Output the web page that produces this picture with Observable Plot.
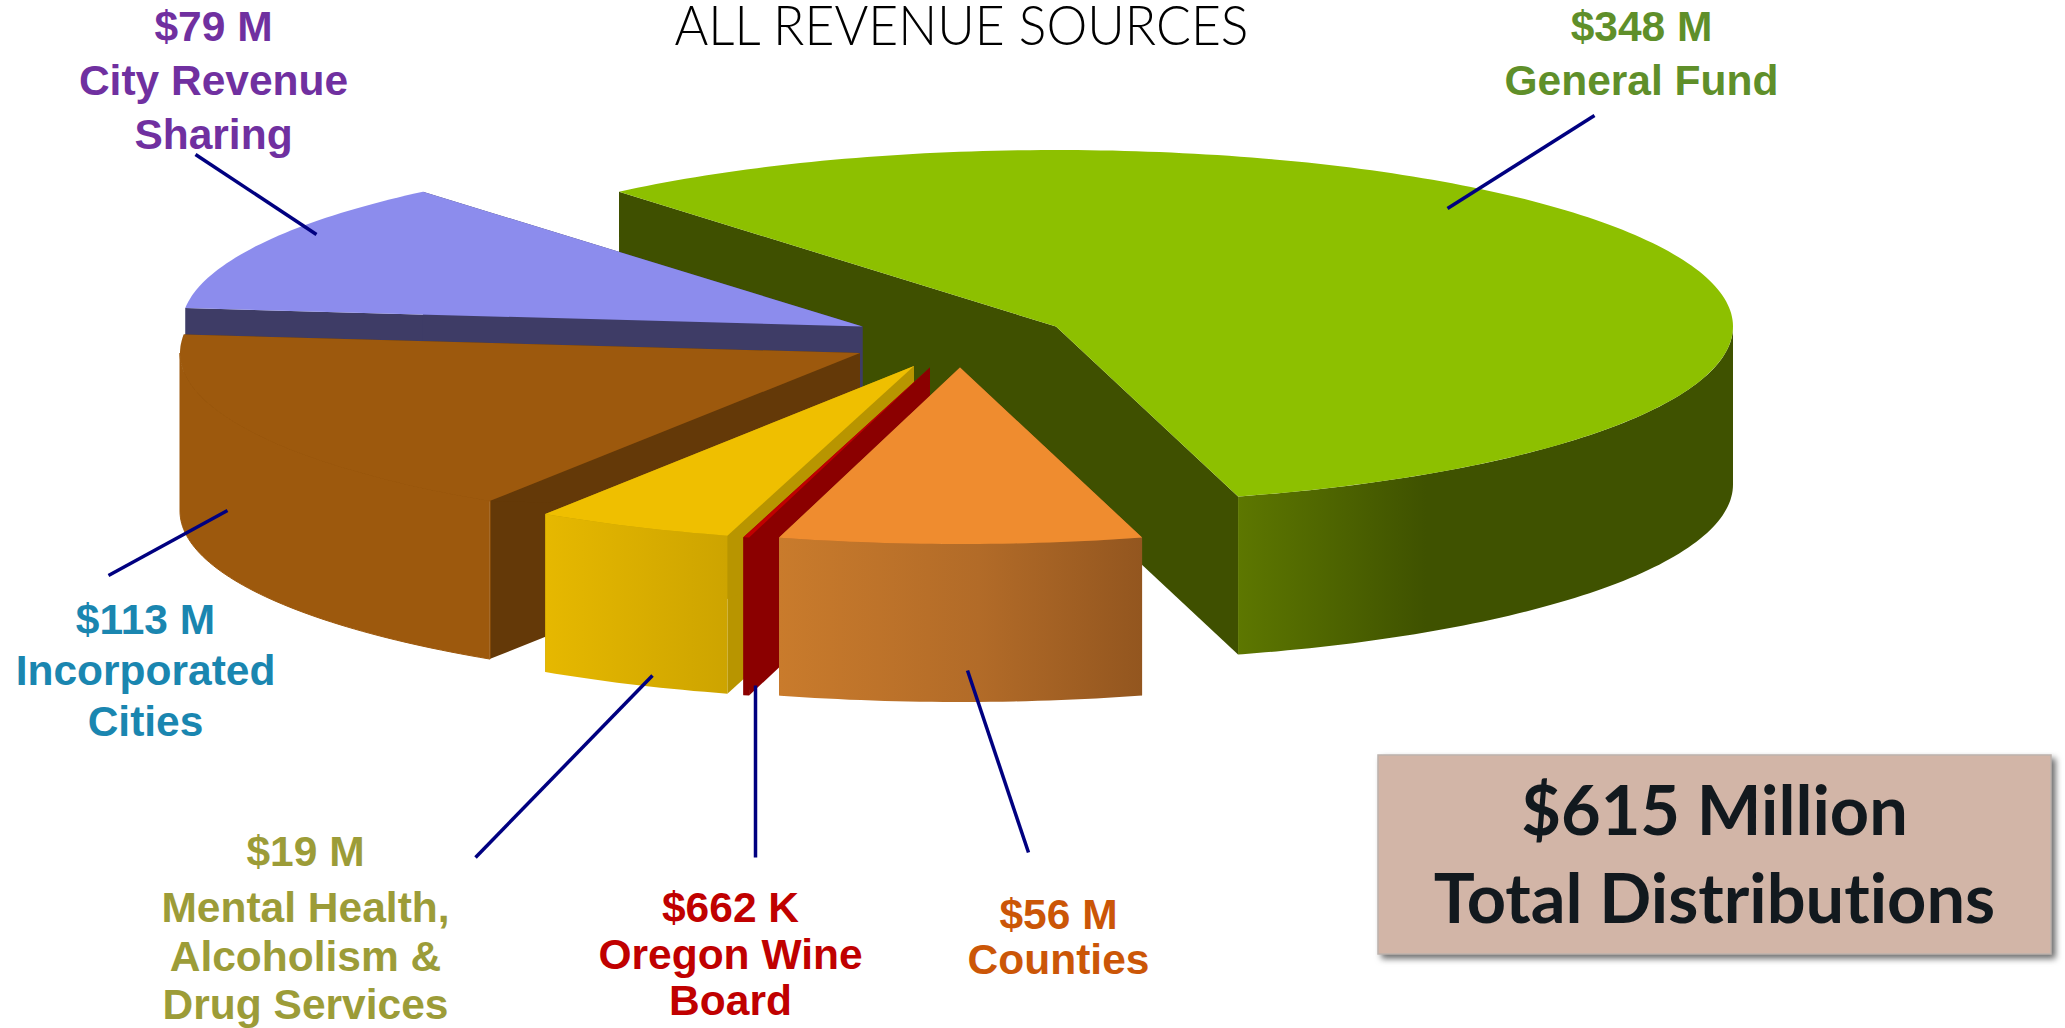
<!DOCTYPE html>
<html>
<head>
<meta charset="utf-8">
<script src="https://cdn.jsdelivr.net/npm/d3@7"></script>
<script src="https://cdn.jsdelivr.net/npm/@observablehq/plot@0.6"></script>
<style>
html,body{margin:0;padding:0;background:#fff;overflow:hidden}
svg{display:block}
text{font-variant-ligatures:none}
</style>
</head>
<body>
<div id="chart"></div>
<script>
// ---- data ----
const categories = ["General Fund", "Counties", "Oregon Wine Board", "Mental Health, Alcoholism & Drug Services", "Incorporated Cities", "City Revenue Sharing"];
const amountLabels = ["$348 M", "$56 M", "$662 K", "$19 M", "$113 M", "$79 M"];
// Sweep of each slice in degrees, as measured on the drawn pie.
const sweeps = [204.6, 31.1, 0.5, 17, 63, 43.8];
const startAngle = -40.2; // clockwise from 12 o'clock
const titleText = "ALL REVENUE SOURCES";
const boxLines = ["$615 Million", "Total Distributions"];

// ---- styles ----
const topColors = ["#8dc000", "#ef8c2f", "#c00000", "#efbf00", "#9d590d", "#8c8ced"];
const wallColors = ["#3f5000", "#a9652a", "#8b0000", "#b89500", "#643908", "#3e3c66"];
const labelColors = ["#5f8f2a", "#cb5607", "#c00000", "#9c9c38", "#1a86b0", "#7030a0"];
const sideStops = [
  [[0, "#5d7700"], [0.38, "#3f5200"], [1, "#3f5200"]],
  [[0, "#c97b2c"], [0.55, "#b26b28"], [1, "#93561f"]],
  [[0, "#8b0000"], [1, "#8b0000"]],
  [[0, "#e6b800"], [1, "#cda400"]],
  [[0, "#9d590d"], [1, "#9d590d"]],
  [[0, "#3e3c66"], [1, "#3e3c66"]]
];

// ---- layout ----
const W = 2065, H = 1028;
const radiiX = [677, 677, 677, 677, 680, 681];
const ry = 176.5, depth = 158;
const centers = [[1056, 326.5], [960, 367.5], [930, 367.5], [914, 366], [860, 353], [862.5, 326.5]];
const leaders = [
  [1594, 115, 1447, 208], [1028, 852, 967, 670], [755, 857, 755, 685],
  [475, 857, 652, 675], [108, 575, 227, 510], [195, 154, 316, 234]
];
const labelLines = [
  [[1641, 27, amountLabels[0]], [1641, 81, "General Fund"]],
  [[1058, 915, amountLabels[1]], [1058, 960, "Counties"]],
  [[730, 908, amountLabels[2]], [730, 955, "Oregon Wine"], [730, 1001, "Board"]],
  [[305, 852, amountLabels[3]], [305, 908, "Mental Health,"], [305, 957, "Alcoholism &"], [305, 1005, "Drug Services"]],
  [[145, 620, amountLabels[4]], [145, 671, "Incorporated"], [145, 722, "Cities"]],
  [[213, 27, amountLabels[5]], [213, 81, "City Revenue"], [213, 135, "Sharing"]]
];
const boxRect = {x1: 1378, y1: 755, x2: 2051, y2: 954};

// ---- geometry derived from the sweeps ----
const rad = d => d * Math.PI / 180;
const pt = (i, a) => ({x: centers[i][0] + radiiX[i] * Math.sin(rad(a)), y: centers[i][1] - ry * Math.cos(rad(a))});
const arcAngles = (a0, a1) => {
  const out = [];
  for (let a = a0; a < a1; a += 1) out.push(a);
  out.push(a1);
  return out;
};
let acc = startAngle;
const slices = sweeps.map((s, i) => { const o = {i, a0: acc, a1: acc + s}; acc += s; return o; });

const sliceMarks = ({i, a0, a1}) => {
  const c = {x: centers[i][0], y: centers[i][1]};
  const wall = a => { const p = pt(i, a); return [c, p].map(q => ({x: q.x, y1: q.y, y2: q.y + depth})); };
  const marks = [];
  for (const a of [a0, a1]) {
    marks.push(Plot.area(wall(a), {x1: "x", x2: "x", y1: "y1", y2: "y2", fill: wallColors[i], curve: "linear"}));
  }
  const lo = Math.max(a0, 90), hi = Math.min(a1, 270);
  if (hi > lo) {
    const side = arcAngles(lo, hi).map(a => { const p = pt(i, a); return {x: p.x, y1: p.y, y2: p.y + depth}; });
    marks.push(Plot.area(side, {x1: "x", x2: "x", y1: "y1", y2: "y2", fill: `url(#side${i})`, stroke: i === 4 ? topColors[4] : "none", strokeWidth: 1, curve: "linear"}));
  }
  const top = arcAngles(a0, a1).map(a => { const p = pt(i, a); return {x1: p.x, y1: p.y, x2: c.x, y2: c.y}; });
  marks.push(Plot.area(top, {x1: "x1", y1: "y1", x2: "x2", y2: "y2", fill: topColors[i], curve: "linear"}));
  return marks;
};

const order = [0, 5, 4, 3, 2, 1];

const textRows = labelLines.flatMap((lines, i) => lines.map(([x, y, text]) => ({x, y, text, color: labelColors[i]})));
const leaderRows = leaders.map(([x1, y1, x2, y2]) => ({x1, y1, x2, y2}));

const chart = Plot.plot({
  width: W, height: H, margin: 0,
  x: {domain: [0, W], range: [0, W], axis: null},
  y: {domain: [0, H], range: [0, H], axis: null},
  style: {background: "#fff"},
  marks: [
    order.flatMap(k => sliceMarks(slices[k])),
    Plot.link(leaderRows, {x1: "x1", y1: "y1", x2: "x2", y2: "y2", stroke: "#000080", strokeWidth: 3.5}),
    Plot.text(textRows, {x: "x", y: "y", text: "text", fill: "color", fontSize: 42.5, fontWeight: 700, fontFamily: "Liberation Sans", textAnchor: "middle", lineAnchor: "middle"}),
    Plot.text([titleText], {x: 961, y: 27, text: d => d, fontSize: 56, fontWeight: 300, fontFamily: "Lato", fill: "#000", lineAnchor: "middle", className: "chart-title"}),
    Plot.rect([boxRect], {x1: "x1", y1: "y1", x2: "x2", y2: "y2", fill: "#d2b5a7", stroke: "#bdb3ad", strokeWidth: 1.5, imageFilter: "drop-shadow(4px 4px 3px rgba(60,60,60,.75))"}),
    Plot.text(boxLines, {x: 1714, y: (d, i) => [813, 901][i], text: d => d, fontSize: 68.5, fontWeight: 700, fontFamily: "Lato", fill: "#12191e", lineAnchor: "middle"})
  ]
});

// The reference title uses a narrower face: fit it to the measured width.
d3.select(chart).selectAll(".chart-title text").attr("textLength", 574).attr("lengthAdjust", "spacingAndGlyphs");

const defs = d3.select(chart).append("defs");
sideStops.forEach((stops, i) => {
  const g = defs.append("linearGradient").attr("id", `side${i}`).attr("x1", 0).attr("x2", 1).attr("y1", 0).attr("y2", 0);
  stops.forEach(([o, c]) => g.append("stop").attr("offset", o).attr("stop-color", c));
});
document.getElementById("chart").append(chart);
</script>
</body>
</html>
